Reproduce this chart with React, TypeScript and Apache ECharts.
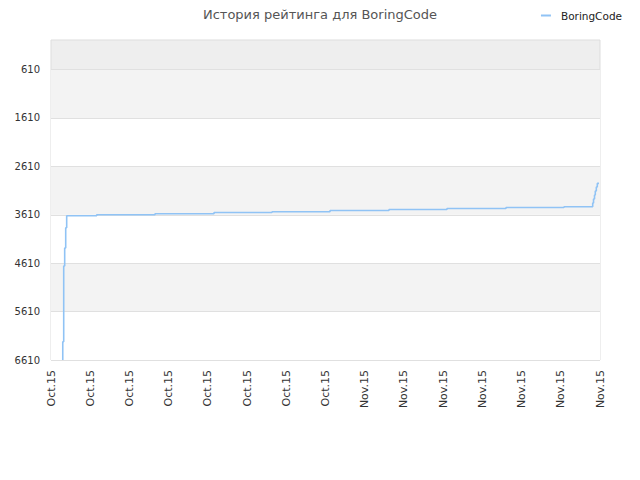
import React, { useEffect, useRef } from "react";
import * as echarts from "echarts";

const TITLE = "История рейтинга для BoringCode";
const SERIES_NAME = "BoringCode";
const X_LABELS = [
  "Oct.15", "Oct.15", "Oct.15", "Oct.15", "Oct.15", "Oct.15", "Oct.15", "Oct.15",
  "Nov.15", "Nov.15", "Nov.15", "Nov.15", "Nov.15", "Nov.15", "Nov.15",
];
const Y_TICKS = [610, 1610, 2610, 3610, 4610, 5610, 6610];
const STEP_X = [
  3.0, 3.0, 3.24, 3.49, 3.75, 4.0, 11.65, 26.52, 41.57, 56.36, 71.15, 86.19,
  100.98, 116.03, 130.82, 138.14, 138.35, 138.6, 138.8, 139.06, 139.31, 139.75,
];
const RATING = [
  6610, 6232, 4668, 4296, 3877, 3629, 3609, 3588, 3563, 3547, 3522, 3501,
  3481, 3460, 3443, 3367, 3284, 3202, 3119, 3036, 2962, 2962,
];

const FONT = "DejaVu Sans";

export default function App() {
  const ref = useRef<HTMLDivElement>(null);
  useEffect(() => {
    if (!ref.current) return;
    const chart = echarts.init(ref.current, null, { renderer: "svg" });
    const xMax = (X_LABELS.length - 1) * 10;
    chart.setOption({
      animation: false,
      backgroundColor: "#ffffff",
      textStyle: { fontFamily: FONT },
      title: {
        text: TITLE,
        left: "center",
        top: 3,
        textStyle: { fontSize: 13, fontWeight: "normal", color: "#555555", fontFamily: FONT },
      },
      legend: {
        right: 13,
        top: 5,
        icon: "rect",
        itemWidth: 10,
        itemHeight: 2,
        textStyle: {
          fontSize: 10.5,
          color: "#222222",
          fontFamily: FONT,
          padding: [0, 0, 0, 5],
        },
        data: [SERIES_NAME],
      },
      grid: {
        left: 51,
        right: 40,
        top: 40,
        bottom: 120,
        show: true,
        borderColor: "#dddddd",
        borderWidth: 1,
        backgroundColor: "#eeeeee",
      },
      xAxis: {
        type: "value",
        min: 0,
        max: xMax,
        interval: 10,
        axisLine: { show: false },
        axisTick: { show: false },
        splitLine: { show: false },
        axisLabel: {
          rotate: 90,
          fontSize: 11,
          color: "#333333",
          margin: 10,
          fontFamily: FONT,
          formatter: (v: number) => X_LABELS[Math.round(v / 10)] ?? "",
        },
      },
      yAxis: {
        type: "value",
        inverse: true,
        min: 0,
        max: Y_TICKS[Y_TICKS.length - 1],
        axisLine: { show: false },
        axisTick: { show: false, customValues: Y_TICKS },
        splitLine: { show: true, lineStyle: { color: "#e0e0e0", width: 1 } },
        splitArea: {
          show: true,
          areaStyle: { color: ["#f3f3f3", "#ffffff"] },
        },
        axisLabel: {
          fontSize: 10,
          color: "#333333",
          margin: 11,
          fontFamily: FONT,
          customValues: Y_TICKS,
          formatter: (v: number) => String(v),
        },
      },
      series: [
        {
          name: SERIES_NAME,
          type: "line",
          step: "end",
          showSymbol: false,
          symbol: "none",
          color: "#90c3f5",
          lineStyle: { color: "#90c3f5", width: 1.6 },
          data: STEP_X.map((x, i) => [x, RATING[i]]),
        },
      ],
    });
    return () => chart.dispose();
  }, []);
  return (
    <div
      ref={ref}
      style={{ position: "fixed", left: 0, top: 0, width: 640, height: 480 }}
    />
  );
}
